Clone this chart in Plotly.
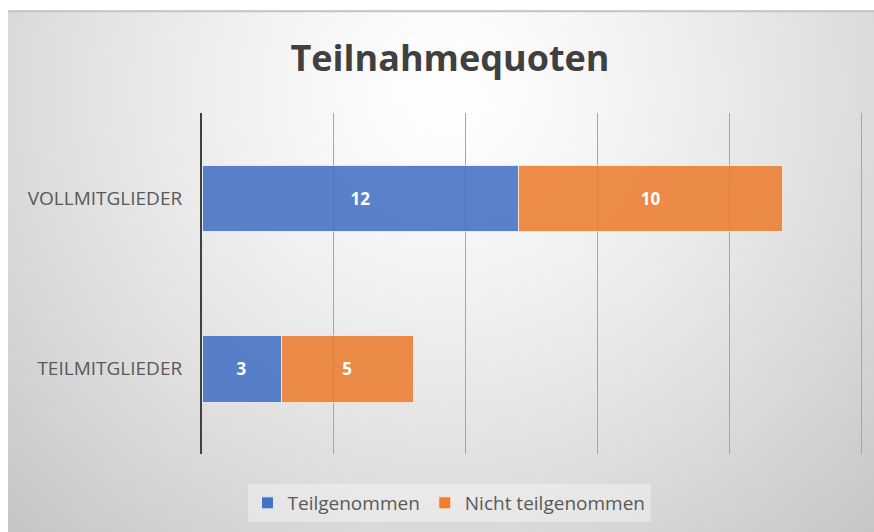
import base64
import struct
import zlib

import numpy as np
import plotly.graph_objects as go

# Data
categories = ["TEILMITGLIEDER", "VOLLMITGLIEDER"]
teilgenommen = [3, 12]
nicht_teilgenommen = [5, 10]
x_ticks = [0, 5, 10, 15, 20, 25]

W, H = 874, 532
ML, MR, MT, MB = 202, 11, 113, 77


# Radial grey background (Excel style) as an inline PNG
def gradient_png(w, h, cx, cy):
    yy, xx = np.mgrid[0:h, 0:w]
    d = np.sqrt((xx - cx) ** 2 + (yy - cy) ** 2) / 600.0
    v = 255 - 55 * d ** 1.3
    v = np.clip(v, 0, 255).astype(np.uint8)
    v[0, :] = 185
    v[1, :] = 205
    raw = b"".join(b"\x00" + row.tobytes() for row in v)

    def chunk(tag, data):
        c = struct.pack(">I", len(data)) + tag + data
        return c + struct.pack(">I", zlib.crc32(tag + data) & 0xffffffff)

    png = b"\x89PNG\r\n\x1a\n"
    png += chunk(b"IHDR", struct.pack(">IIBBBBB", w, h, 8, 0, 0, 0, 0))
    png += chunk(b"IDAT", zlib.compress(raw, 9))
    png += chunk(b"IEND", b"")
    return "data:image/png;base64," + base64.b64encode(png).decode()


fx0, fy0 = 8, 10
bw, bh = W - fx0 + 10, H - fy0 + 10
bg = gradient_png(bw, bh, 445 - fx0, 90 - fy0)

pw = W - ML - MR
ph = H - MT - MB

fig = go.Figure()
fig.add_trace(go.Bar(y=categories, x=teilgenommen, orientation="h",
                     name="Teilgenommen", text=teilgenommen,
                     marker=dict(color="#4472C4", opacity=0.88,
                                 line=dict(color="#dfe8f7", width=1))))
fig.add_trace(go.Bar(y=categories, x=nicht_teilgenommen, orientation="h",
                     name="Nicht teilgenommen", text=nicht_teilgenommen,
                     marker=dict(color="#ED7D31", opacity=0.88,
                                 line=dict(color="#fbe3d3", width=1))))
fig.update_traces(textposition="inside", insidetextanchor="middle",
                  textfont=dict(family="Open Sans", size=17, color="white",
                                weight="bold"),
                  hoverinfo="skip")

fig.update_layout(
    width=W, height=H,
    margin=dict(l=ML, r=MR, t=MT, b=MB, pad=0),
    barmode="stack", bargap=0.61,
    paper_bgcolor="white", plot_bgcolor="rgba(0,0,0,0)",
    font=dict(family="Open Sans", color="#595959"),
    title=dict(text="<b>Teilnahmequoten</b>", x=(450 - ML) / pw, xref="paper",
               xanchor="center", y=1 - 58 / H, yanchor="middle",
               font=dict(family="Open Sans", size=36, color="#404040")),
    xaxis=dict(range=[0, 25.05], tickvals=x_ticks, showticklabels=False,
               showgrid=True, gridcolor="#a6a6a6", gridwidth=1,
               zeroline=False, showline=False, layer="above traces"),
    yaxis=dict(showgrid=False, zeroline=False, showline=True,
               linecolor="#404040", linewidth=2, ticks="", ticklen=0,
               tickfont=dict(family="Open Sans", size=19, color="#595959"),
               ticklabelstandoff=14),
    legend=dict(orientation="h", x=(449 - ML) / pw, xanchor="center",
                y=-(503 - MT - ph) / ph, yanchor="middle",
                bgcolor="rgba(255,255,255,0.35)", borderwidth=0,
                font=dict(family="Open Sans", size=19, color="#595959"),
                itemwidth=30, traceorder="normal"),
    images=[dict(source=bg, xref="paper", yref="paper",
                 x=(fx0 - ML) / pw, y=1 + (MT - fy0) / ph,
                 sizex=bw / pw, sizey=bh / ph,
                 sizing="stretch", xanchor="left", yanchor="top",
                 layer="below")],
)

fig.write_html("out.html", config={"displayModeBar": False},
               post_script="document.body.style.margin='0';"
                           "document.body.style.overflow='hidden';")
